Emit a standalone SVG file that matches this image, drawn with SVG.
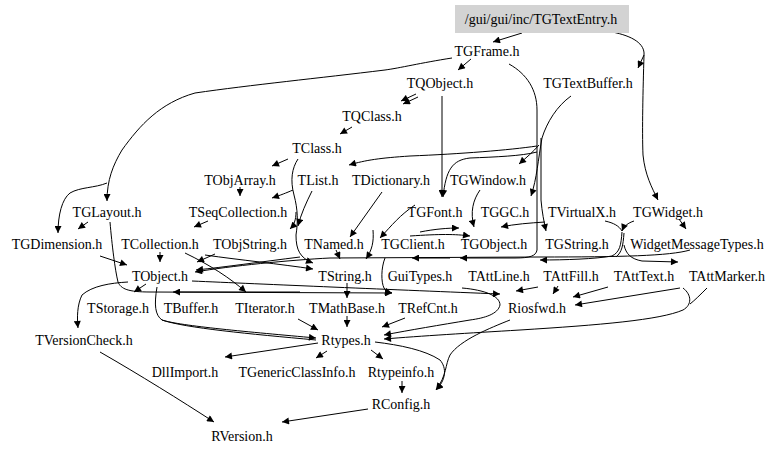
<svg xmlns="http://www.w3.org/2000/svg" width="779" height="453" viewBox="0 0 779 453">
<style>
text{font-family:"Liberation Serif","Times New Roman",serif;font-size:14px;fill:#000;text-anchor:middle}
.e{fill:none;stroke:#000;stroke-width:1;marker-end:url(#ah)}
.l{fill:none;stroke:#000;stroke-width:1}
</style>
<defs>
<marker id="ah" viewBox="0 0 10 10" refX="10" refY="5" markerWidth="10" markerHeight="7" markerUnits="userSpaceOnUse" orient="auto">
<path d="M0,0 L10,5 L0,10 Z" fill="#000"/>
</marker>
</defs>
<rect width="779" height="453" fill="#fff"/>
<g id="edges">
<path class="e" d="M522,33 L493,42"/>
<path class="e" d="M612,32 C633,36 645,44 644,55 L638,68"/>
<path class="e" d="M644,55 C643,90 642,130 643,155 C645,175 652,188 658,200"/>
<path class="e" d="M471,59 L458,70"/>
<path class="e" d="M452,58 C420,63 400,68 385,70 C320,78 250,85 195,93 C160,103 140,125 122,150 C113,165 107,180 107,201"/>
<path class="e" d="M107,183 C95,188 80,187 70,193 C62,199 58,215 58,233"/>
<path class="e" d="M509,64 C527,74 537,90 537,110 L537,250 C536,256 530,258 515,258 L460,258"/>
<path class="e" d="M571,96 C557,106 547,122 542,138 C538,160 537,178 531,196"/>
<path class="e" d="M541,138 L541,200 C542,212 544,222 546,231"/>
<path class="e" d="M539,145 C533,152 527,157 519,164"/>
<path class="e" d="M416,94 L401,101"/>
<path class="e" d="M418,97 L403,104"/>
<path class="e" d="M442,96 L442,197"/>
<path class="e" d="M537,152 C522,156 495,157 470,158 C452,160 446,170 443,197"/>
<path class="e" d="M352,127 L340,134"/>
<path class="e" d="M288,159 L272,166"/>
<path class="e" d="M298,159 C292,168 290,180 294,195 C298,210 298,222 296,235 C296,250 300,258 313,263"/>
<path class="e" d="M296,212 C296,220 294,225 290,229"/>
<path class="e" d="M537,146 C510,150 460,154 410,156 C380,158 366,160 349,165"/>
<path class="e" d="M240,187 L240,196"/>
<path class="e" d="M293,190 C286,193 281,195 272,198"/>
<path class="e" d="M312,191 C306,203 301,214 298,226"/>
<path class="e" d="M382,192 L350,237"/>
<path class="e" d="M208,221 L194,227"/>
<path class="e" d="M88,222 L78,229"/>
<path class="e" d="M110,222 C112,245 115,270 118,282 C121,289 128,292 150,292 L392,293"/>
<path class="e" d="M300,292 L173,292"/>
<path class="e" d="M100,256 L127,265"/>
<path class="e" d="M160,252 L160,262"/>
<path class="e" d="M185,253 C210,265 230,278 246,292"/>
<path class="e" d="M215,254 L197,262"/>
<path class="e" d="M205,255 C240,260 280,264 313,269"/>
<path class="e" d="M690,250 C670,256 620,257 540,257 L330,258 C290,260 230,266 195,272"/>
<path class="e" d="M300,257 C260,262 225,267 196,270"/>
<path class="e" d="M450,258 L412,258"/>
<path class="e" d="M336,250 L340,259"/>
<path class="e" d="M373,230 C374,242 372,250 366,259"/>
<path class="e" d="M415,205 C400,215 392,225 380,238"/>
<path class="e" d="M410,236 C440,234 455,234 470,236"/>
<path class="e" d="M480,190 C473,200 470,212 474,227"/>
<path class="e" d="M545,222 C530,223 515,224 501,227"/>
<path class="e" d="M420,232 C435,229 448,228 459,228"/>
<path class="l" d="M605,221 C614,223 619,226 622,231"/>
<path class="e" d="M634,221 C628,223 624,226 622,231"/>
<path class="e" d="M622,232 C621,245 620,252 612,256 C595,259 565,260 540,260"/>
<path class="l" d="M624,233 C623,246 622,252 616,257"/>
<path class="e" d="M624,245 C626,254 631,259 642,261 L678,262"/>
<path class="e" d="M679,219 L686,229"/>
<path class="e" d="M128,282 C110,283 92,286 82,295 C77,305 77,318 78,328"/>
<path class="e" d="M146,284 L134,292"/>
<path class="e" d="M157,287 C154,305 155,315 162,320 C180,326 250,332 316,338"/>
<path class="l" d="M162,320 C185,328 250,334 316,340"/>
<path class="e" d="M192,281 C260,284 400,290 500,294"/>
<path class="e" d="M347,283 L347,298"/>
<path class="e" d="M298,319 L318,330"/>
<path class="e" d="M347,316 L347,327"/>
<path class="e" d="M405,318 L382,327"/>
<path class="e" d="M462,288 C485,290 500,296 500,305 C498,314 485,318 470,320 C440,325 410,330 384,335"/>
<path class="e" d="M683,288 C692,295 692,305 683,310 C660,320 600,325 520,330 C470,333 420,336 384,339"/>
<path class="l" d="M707,288 C700,295 695,300 690,304"/>
<path class="e" d="M558,286 L553,294"/>
<path class="e" d="M538,287 L516,291"/>
<path class="e" d="M608,287 L573,297"/>
<path class="e" d="M680,288 L575,305"/>
<path class="e" d="M510,320 C490,328 460,340 450,355 C445,365 447,375 436,390"/>
<path class="e" d="M375,342 C400,345 425,350 440,360 C447,368 446,380 436,390"/>
<path class="e" d="M402,381 L402,393"/>
<path class="e" d="M318,343 L225,357"/>
<path class="e" d="M327,351 L316,358"/>
<path class="e" d="M371,350 L383,359"/>
<path class="e" d="M368,409 L282,422"/>
<path class="e" d="M100,352 C140,375 180,400 214,422"/>
<path class="e" d="M385,258 C381,268 381,282 384,288 C386,291 388,292 392,293"/>
</g>
<g id="n_root"><rect x="455" y="5" width="174" height="28" fill="#d3d3d3"/><text x="541" y="24">/gui/gui/inc/TGTextEntry.h</text></g>
<g id="n_TGFrame"><text x="487" y="56">TGFrame.h</text></g>
<g id="n_TQObject"><text x="440" y="88">TQObject.h</text></g>
<g id="n_TGTextBuffer"><text x="588" y="88">TGTextBuffer.h</text></g>
<g id="n_TQClass"><text x="372" y="121">TQClass.h</text></g>
<g id="n_TClass"><text x="317" y="153">TClass.h</text></g>
<g id="n_TObjArray"><text x="240" y="185">TObjArray.h</text></g>
<g id="n_TList"><text x="318" y="185">TList.h</text></g>
<g id="n_TDictionary"><text x="391" y="185">TDictionary.h</text></g>
<g id="n_TGWindow"><text x="488" y="185">TGWindow.h</text></g>
<g id="n_TGLayout"><text x="107" y="217">TGLayout.h</text></g>
<g id="n_TSeqCollection"><text x="238" y="217">TSeqCollection.h</text></g>
<g id="n_TGFont"><text x="435" y="217">TGFont.h</text></g>
<g id="n_TGGC"><text x="505" y="217">TGGC.h</text></g>
<g id="n_TVirtualX"><text x="582" y="217">TVirtualX.h</text></g>
<g id="n_TGWidget"><text x="668" y="217">TGWidget.h</text></g>
<g id="n_TGDimension"><text x="57" y="249">TGDimension.h</text></g>
<g id="n_TCollection"><text x="160" y="249">TCollection.h</text></g>
<g id="n_TObjString"><text x="250" y="249">TObjString.h</text></g>
<g id="n_TNamed"><text x="334" y="249">TNamed.h</text></g>
<g id="n_TGClient"><text x="413" y="249">TGClient.h</text></g>
<g id="n_TGObject"><text x="494" y="249">TGObject.h</text></g>
<g id="n_TGString"><text x="577" y="249">TGString.h</text></g>
<g id="n_WidgetMessageTypes"><text x="697" y="249">WidgetMessageTypes.h</text></g>
<g id="n_TObject"><text x="160" y="281">TObject.h</text></g>
<g id="n_TString"><text x="345" y="281">TString.h</text></g>
<g id="n_GuiTypes"><text x="420" y="281">GuiTypes.h</text></g>
<g id="n_TAttLine"><text x="499" y="281">TAttLine.h</text></g>
<g id="n_TAttFill"><text x="571" y="281">TAttFill.h</text></g>
<g id="n_TAttText"><text x="644" y="281">TAttText.h</text></g>
<g id="n_TAttMarker"><text x="727" y="281">TAttMarker.h</text></g>
<g id="n_TStorage"><text x="118" y="313">TStorage.h</text></g>
<g id="n_TBuffer"><text x="191" y="313">TBuffer.h</text></g>
<g id="n_TIterator"><text x="265" y="313">TIterator.h</text></g>
<g id="n_TMathBase"><text x="347" y="313">TMathBase.h</text></g>
<g id="n_TRefCnt"><text x="428" y="313">TRefCnt.h</text></g>
<g id="n_Riosfwd"><text x="537" y="313">Riosfwd.h</text></g>
<g id="n_TVersionCheck"><text x="84" y="345">TVersionCheck.h</text></g>
<g id="n_Rtypes"><text x="346" y="345">Rtypes.h</text></g>
<g id="n_DllImport"><text x="185" y="377">DllImport.h</text></g>
<g id="n_TGenericClassInfo"><text x="297" y="377">TGenericClassInfo.h</text></g>
<g id="n_Rtypeinfo"><text x="401" y="377">Rtypeinfo.h</text></g>
<g id="n_RConfig"><text x="401" y="409">RConfig.h</text></g>
<g id="n_RVersion"><text x="242" y="441">RVersion.h</text></g>
</svg>
